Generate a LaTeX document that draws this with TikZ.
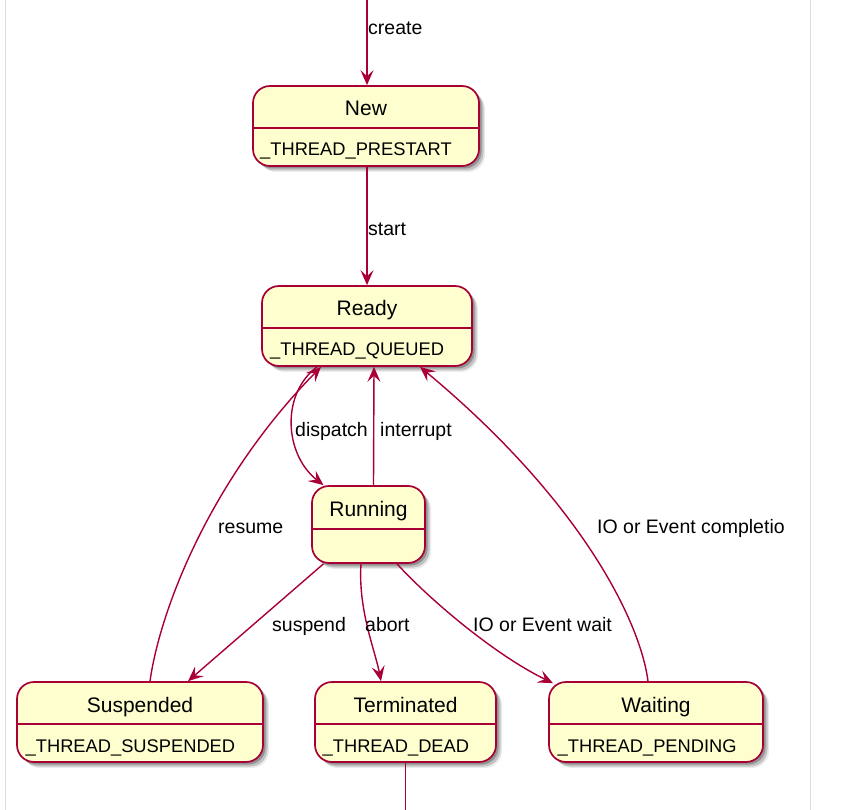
\documentclass[tikz,border=0pt]{standalone}
\usepackage{fontspec}
\setmainfont{Liberation Sans}
\usepackage{tikz}
\usetikzlibrary{arrows.meta,shadows}

\definecolor{stateFill}{HTML}{FEFECE}
\definecolor{stateLine}{HTML}{A80036}
\definecolor{frameGray}{HTML}{DDDDDD}

\begin{document}
\begin{tikzpicture}[
    x=1pt, y=-1pt,
    >={Stealth[length=15pt,width=13pt,inset=6pt]},
    state/.style={rectangle, rounded corners=17pt, draw=stateLine, line width=1.7pt, fill=stateFill,
        drop shadow={shadow xshift=2.5pt, shadow yshift=-2.5pt, fill=black, opacity=0.25},
        drop shadow={shadow xshift=4.5pt, shadow yshift=-4.5pt, fill=black, opacity=0.18},
        drop shadow={shadow xshift=6pt, shadow yshift=-6pt, fill=black, opacity=0.08}},
    title/.style={font=\fontsize{21pt}{25pt}\selectfont, inner sep=0pt, anchor=base},
    desc/.style={font=\fontsize{18.3pt}{22pt}\selectfont, inner sep=0pt, anchor=base west},
    lbl/.style={font=\fontsize{19.5pt}{23pt}\selectfont, inner sep=0pt, anchor=base west},
    divider/.style={draw=stateLine, line width=1.7pt},
    trans/.style={draw=stateLine, line width=1.4pt},
    frame/.style={draw=frameGray, line width=1pt}
]
\useasboundingbox (0,0) rectangle (844,810);

% Page frame
\draw[frame] (5.5,0) -- (5.5,810);
\draw[frame] (810.5,0) -- (810.5,810);

% === Row 0: New ===
\node[state, minimum width=226pt, minimum height=80pt] (new) at (366,126) {};
\node[title] (newT) at (366,116) {New};
\node[desc] (newD) at (260,156) {\_THREAD\_PRESTART};
\draw[divider] (new.west |- 0,128) -- (new.east |- 0,128);

% === Row 1: Ready ===
\node[state, minimum width=210pt, minimum height=80pt] (ready) at (367,326) {};
\node[title] (readyT) at (367,316) {Ready};
\node[desc] (readyD) at (270,356) {\_THREAD\_QUEUED};
\draw[divider] (ready.west |- 0,328) -- (ready.east |- 0,328);

% === Row 2: Running ===
\node[state, minimum width=113pt, minimum height=77pt] (running) at (368.5,524.5) {};
\node[title] (runningT) at (368.5,516) {Running};
\draw[divider] (running.west |- 0,529) -- (running.east |- 0,529);

% === Row 3: Suspended / Terminated / Waiting ===
\node[state, minimum width=246pt, minimum height=80pt] (suspended) at (140,722) {};
\node[title] (suspendedT) at (140,712) {Suspended};
\node[desc] (suspendedD) at (25.5,752) {\_THREAD\_SUSPENDED};
\draw[divider] (suspended.west |- 0,724) -- (suspended.east |- 0,724);

\node[state, minimum width=181pt, minimum height=80pt] (terminated) at (405.5,722) {};
\node[title] (terminatedT) at (405.5,712) {Terminated};
\node[desc] (terminatedD) at (322.5,752) {\_THREAD\_DEAD};
\draw[divider] (terminated.west |- 0,724) -- (terminated.east |- 0,724);

\node[state, minimum width=214pt, minimum height=80pt] (waiting) at (656,722) {};
\node[title] (waitingT) at (656,712) {Waiting};
\node[desc] (waitingD) at (557.5,752) {\_THREAD\_PENDING};
\draw[divider] (waiting.west |- 0,724) -- (waiting.east |- 0,724);

% === Transitions ===
\coordinate (entry) at (367,0);
\coordinate (exit) at (405.5,810);
\draw[trans,->] (entry) -- ([xshift=1pt]new.north);
\draw[trans,->] ([xshift=1pt]new.south) -- (ready.north);
\draw[trans,->] ([xshift=-50pt]ready.south) .. controls (280,395) and (285,455) .. ([xshift=-45pt]running.north);
\draw[trans,->] ([xshift=5pt]running.north) -- ([xshift=7pt]ready.south);
\draw[trans,->] ([xshift=10pt]suspended.north) .. controls (160,610) and (210,480) .. ([xshift=-46pt]ready.south);
\draw[trans,->] ([xshift=-45pt]running.south) -- ([xshift=48pt]suspended.north);
\draw[trans,->] ([xshift=-7.5pt]running.south) .. controls (358,610) and (375,650) .. ([xshift=-24.5pt]terminated.north);
\draw[trans,->] ([xshift=28.5pt]running.south) .. controls (430,600) and (495,655) .. ([xshift=-103pt,yshift=-2pt]waiting.north);
\draw[trans,->] ([xshift=-8pt]waiting.north) .. controls (640,620) and (580,500) .. ([xshift=53pt]ready.south);
\draw[trans] (terminated.south) -- (exit);

% Transition labels
\node[lbl] (lblCreate) at (368,35) {create};
\node[lbl] (lblStart) at (368,236) {start};
\node[lbl] (lblDispatch) at (295,436) {dispatch};
\node[lbl] (lblInterrupt) at (380,436) {interrupt};
\node[lbl] (lblResume) at (218,533.5) {resume};
\node[lbl] (lblDone) at (597,533.5) {IO or Event completio};
\node[lbl] (lblSuspend) at (272,631) {suspend};
\node[lbl] (lblAbort) at (365,631) {abort};
\node[lbl] (lblWait) at (473,631) {IO or Event wait};
\end{tikzpicture}
\end{document}
